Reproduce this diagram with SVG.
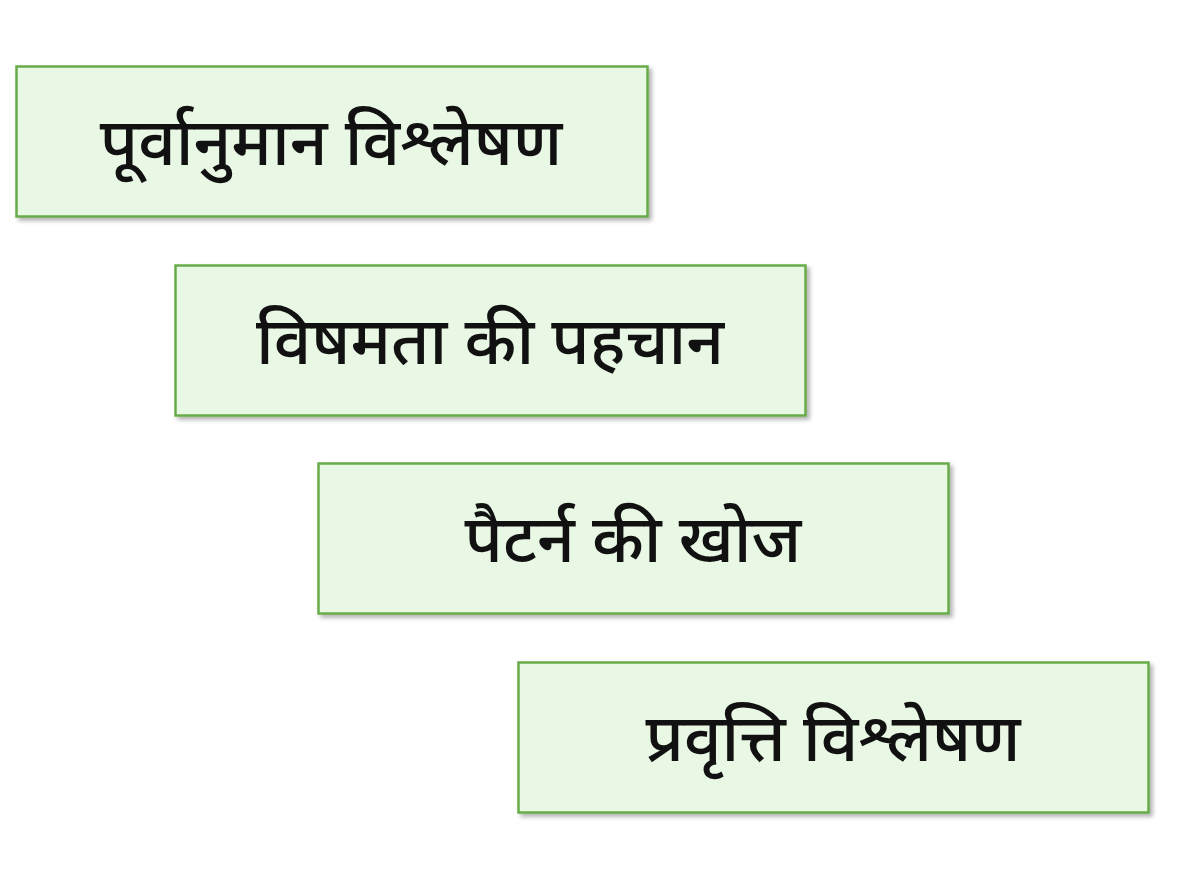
<svg xmlns="http://www.w3.org/2000/svg" width="1193" height="896" viewBox="0 0 1193 896">
<defs>
<filter id="sh" x="-5%" y="-10%" width="115%" height="130%">
<feDropShadow dx="3" dy="3" stdDeviation="2" flood-color="#000" flood-opacity="0.3"/>
</filter>
<style>
.box{fill:#E9F8E5;stroke:#68AC48;stroke-width:2.5;filter:url(#sh)}
.lbl{font-family:"Noto Sans Devanagari","Noto Sans","Lohit Devanagari","Mukta",sans-serif;font-size:66px;font-weight:500;fill:#111;text-anchor:middle;dominant-baseline:central}
</style>
</defs>
<rect width="1193" height="896" fill="#fff"/>
<g id="connectors"/>
<g id="node1"><rect class="box" x="16.5" y="66.5" width="631" height="150"/><text class="lbl" x="331" y="149">पूर्वानुमान विश्लेषण</text></g>
<g id="node2"><rect class="box" x="175.5" y="265.5" width="630" height="150"/><text class="lbl" x="490" y="348">विषमता की पहचान</text></g>
<g id="node3"><rect class="box" x="318.5" y="463.5" width="630" height="150"/><text class="lbl" x="633" y="546">पैटर्न की खोज</text></g>
<g id="node4"><rect class="box" x="518.5" y="662.5" width="630" height="150"/><text class="lbl" x="833" y="745">प्रवृत्ति विश्लेषण</text></g>
</svg>
